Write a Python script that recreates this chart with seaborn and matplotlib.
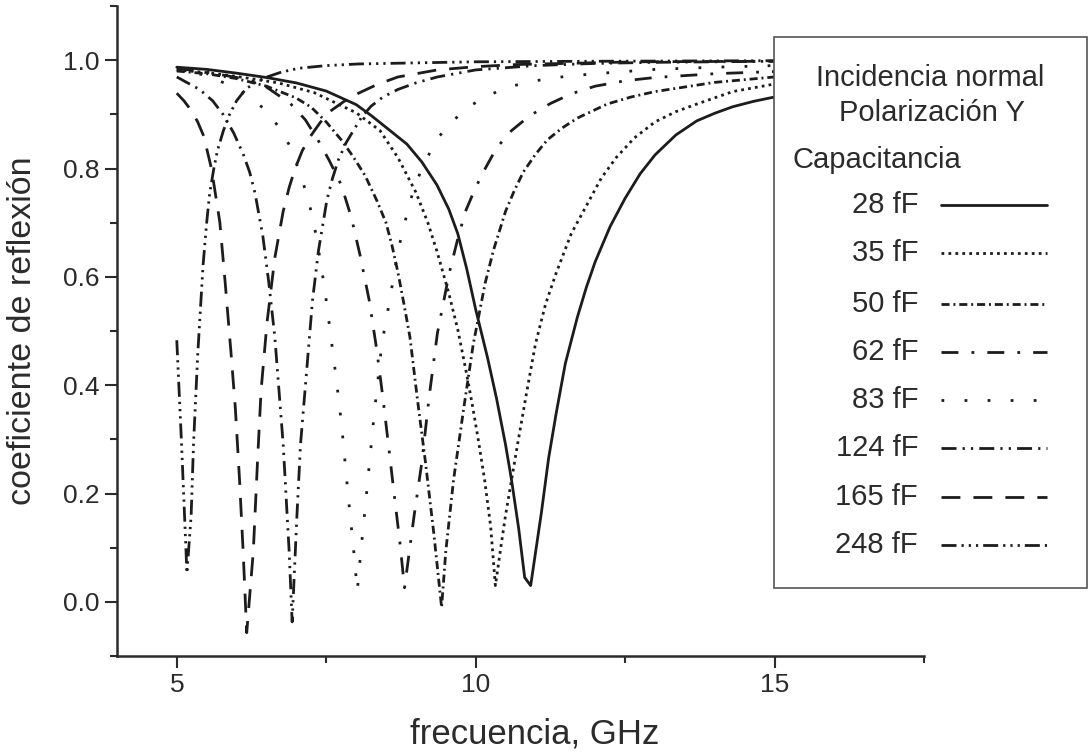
import numpy as np
import pandas as pd
import matplotlib
matplotlib.use("Agg")
import matplotlib.pyplot as plt
from matplotlib.lines import Line2D
from matplotlib.patches import Rectangle
import seaborn as sns

# datos (frecuencia en GHz, coeficiente de reflexion)
f_28 = [5.0, 5.5, 6.0, 6.5, 7.0, 7.5, 8.0, 8.25, 8.5, 8.85, 9.1, 9.35, 9.55, 9.7, 9.85, 10.0, 10.2, 10.35,
        10.5, 10.6, 10.72, 10.82, 10.92, 11.0, 11.1, 11.22, 11.35, 11.5, 11.7, 11.85, 12.0, 12.25, 12.5,
        12.75, 13.0, 13.35, 13.7, 14.0, 14.3, 14.65, 15.0, 15.5, 16.0]
r_28 = [0.987, 0.983, 0.976, 0.968, 0.958, 0.943, 0.918, 0.898, 0.876, 0.845, 0.812, 0.77, 0.725, 0.68,
        0.615, 0.54, 0.45, 0.375, 0.29, 0.225, 0.135, 0.045, 0.03, 0.09, 0.165, 0.265, 0.35, 0.44, 0.525,
        0.58, 0.628, 0.693, 0.745, 0.79, 0.825, 0.862, 0.888, 0.902, 0.914, 0.924, 0.932, 0.94, 0.948]

f_35 = [5.0, 5.5, 6.0, 6.7, 7.3, 8.0, 8.4, 8.7, 9.0, 9.2, 9.35, 9.55, 9.7, 9.85, 9.95, 10.05, 10.15, 10.25,
        10.33, 10.42, 10.5, 10.6, 10.7, 10.85, 11.0, 11.17, 11.35, 11.6, 11.9, 12.1, 12.35, 12.65, 13.0,
        13.35, 13.7, 14.3, 15.0, 15.5, 16.0]
r_35 = [0.982, 0.977, 0.97, 0.958, 0.94, 0.903, 0.87, 0.82, 0.756, 0.7, 0.648, 0.57, 0.503, 0.42, 0.36,
        0.295, 0.225, 0.14, 0.03, 0.1, 0.16, 0.225, 0.29, 0.385, 0.476, 0.55, 0.608, 0.68, 0.741, 0.782,
        0.82, 0.856, 0.886, 0.905, 0.919, 0.942, 0.956, 0.963, 0.968]

f_50 = [5.0, 5.5, 6.0, 6.5, 7.0, 7.25, 7.5, 7.75, 7.95, 8.15, 8.35, 8.5, 8.6, 8.7, 8.8, 8.9, 9.03, 9.16,
        9.3, 9.43, 9.5, 9.63, 9.8, 9.96, 10.16, 10.3, 10.5, 10.65, 10.8, 11.0, 11.2, 11.45, 11.7, 12.2,
        12.6, 13.0, 14.0, 15.0, 16.0]
r_50 = [0.98, 0.975, 0.966, 0.952, 0.93, 0.913, 0.886, 0.853, 0.822, 0.787, 0.74, 0.70, 0.658, 0.608,
        0.55, 0.489, 0.37, 0.258, 0.126, -0.01, 0.093, 0.225, 0.357, 0.476, 0.589, 0.65, 0.721, 0.76,
        0.794, 0.826, 0.853, 0.875, 0.893, 0.919, 0.932, 0.942, 0.959, 0.969, 0.976]

f_62 = [5.0, 5.5, 6.0, 6.4, 6.9, 7.15, 7.35, 7.55, 7.75, 7.92, 8.07, 8.22, 8.34, 8.44, 8.54, 8.63, 8.73,
        8.81, 8.97, 9.1, 9.22, 9.36, 9.56, 9.7, 9.83, 10.0, 10.16, 10.35, 10.6, 10.9, 11.25, 11.6, 12.0,
        12.5, 13.0, 14.0, 15.0, 16.0]
r_62 = [0.985, 0.978, 0.968, 0.958, 0.92, 0.89, 0.855, 0.815, 0.77, 0.71, 0.638, 0.556, 0.469, 0.384,
        0.291, 0.205, 0.112, 0.026, 0.159, 0.258, 0.377, 0.496, 0.608, 0.67, 0.721, 0.765, 0.80, 0.838,
        0.87, 0.897, 0.92, 0.938, 0.952, 0.962, 0.968, 0.975, 0.979, 0.983]

f_83 = [5.0, 5.5, 6.0, 6.48, 6.71, 6.9, 7.04, 7.17, 7.27, 7.34, 7.47, 7.57, 7.67, 7.76, 7.87, 7.95, 8.02,
        8.07, 8.15, 8.3, 8.43, 8.57, 8.7, 8.89, 9.0, 9.16, 9.34, 9.6, 9.88, 10.23, 10.6, 11.0,
        11.5, 12.0, 13.0, 14.0, 15.0, 16.0]
r_83 = [0.982, 0.972, 0.948, 0.909, 0.876, 0.84, 0.797, 0.754, 0.711, 0.671, 0.582, 0.496, 0.41, 0.324,
        0.192, 0.106, 0.02, 0.083, 0.172, 0.344, 0.476, 0.562, 0.648, 0.734, 0.774, 0.813, 0.853, 0.886,
        0.914, 0.936, 0.952, 0.962, 0.97, 0.975, 0.983, 0.987, 0.99, 0.992]

f_124 = [5.0, 5.38, 5.6, 5.78, 5.95, 6.11, 6.22, 6.31, 6.44, 6.54, 6.64, 6.71, 6.78, 6.83, 6.88, 6.93,
         7.01, 7.07, 7.17, 7.27, 7.37, 7.51, 7.6, 7.7, 7.83, 7.97, 8.1, 8.25, 8.45, 8.7, 9.0, 9.36, 10.0,
         11.0, 12.0, 13.0, 15.0, 16.0]
r_124 = [0.969, 0.946, 0.925, 0.899, 0.866, 0.827, 0.793, 0.754, 0.675, 0.589, 0.489, 0.39, 0.291, 0.192,
         0.093, -0.037, 0.159, 0.291, 0.423, 0.556, 0.648, 0.741, 0.78, 0.815, 0.847, 0.873, 0.896, 0.915,
         0.932, 0.946, 0.958, 0.969, 0.982, 0.99, 0.994, 0.996, 0.998, 0.998]

f_165 = [5.0, 5.12, 5.25, 5.35, 5.45, 5.58, 5.72, 5.81, 5.91, 5.98, 6.05, 6.11, 6.17, 6.28, 6.35, 6.41,
         6.51, 6.64, 6.78, 6.88, 6.98, 7.1, 7.24, 7.4, 7.57, 7.8, 8.04, 8.35, 8.7, 9.36, 10.0, 10.7, 12.7,
         15.0, 16.0]
r_165 = [0.939, 0.925, 0.906, 0.886, 0.86, 0.80, 0.701, 0.589, 0.456, 0.357, 0.225, 0.093, -0.057, 0.093,
         0.258, 0.39, 0.516, 0.635, 0.721, 0.765, 0.80, 0.833, 0.86, 0.885, 0.906, 0.924, 0.939, 0.955,
         0.969, 0.982, 0.988, 0.992, 0.997, 0.998, 0.998]

f_248 = [5.0, 5.08, 5.13, 5.17, 5.24, 5.28, 5.35, 5.44, 5.5, 5.55, 5.62, 5.68, 5.78, 5.88, 6.0, 6.15,
         6.3, 6.51, 6.75, 7.04, 7.5, 8.04, 9.0, 10.0, 12.0, 15.0, 16.0]
r_248 = [0.483, 0.291, 0.159, 0.053, 0.159, 0.291, 0.456, 0.622, 0.70, 0.754, 0.8, 0.833, 0.87, 0.899,
         0.925, 0.946, 0.958, 0.969, 0.978, 0.985, 0.99, 0.993, 0.995, 0.997, 0.998, 0.999, 0.999]

capacitancias = ["28 fF", "35 fF", "50 fF", "62 fF", "83 fF", "124 fF", "165 fF", "248 fF"]
frecuencias = [f_28, f_35, f_50, f_62, f_83, f_124, f_165, f_248]
reflexiones = [r_28, r_35, r_50, r_62, r_83, r_124, r_165, r_248]

# tipos de linea (en unidades del grosor)
guiones = {
    "28 fF": "",
    "35 fF": (1, 1.5),
    "50 fF": (2.9, 1.4, 0.7, 1.4),
    "62 fF": (6.1, 4.7, 1, 4.7),
    "83 fF": (1, 7.3),
    "124 fF": (5.4, 2.2, 0.8, 2.2, 0.8, 2.2),
    "165 fF": (6.8, 4.7),
    "248 fF": (5.4, 1.8, 0.8, 1.8, 0.8, 1.8, 0.8, 1.8),
}

filas = []
for cap, fs, rs in zip(capacitancias, frecuencias, reflexiones):
    for f, r in zip(fs, rs):
        filas.append({"frecuencia": f, "reflexion": r, "cap": cap})
df = pd.DataFrame(filas)

sns.set_theme(style="ticks")
plt.rcParams["font.family"] = ["Liberation Sans", "DejaVu Sans"]

fig = plt.figure(figsize=(10.89, 7.55), dpi=100)
ax = fig.add_axes([117 / 1089, 1 - 656 / 755, (924 - 117) / 1089, (656 - 6) / 755])

tinta = "#1c1c1c"
sns.lineplot(data=df, x="frecuencia", y="reflexion", style="cap", style_order=capacitancias,
             dashes=guiones, color=tinta, linewidth=2.0, estimator=None, sort=False,
             legend=False, ax=ax)

ax.set_xlim(4, 17.5)
ax.set_ylim(-0.1, 1.1)
ax.set_xticks([5, 10, 15])
ax.set_xticks([7.5, 12.5, 17.5], minor=True)
ax.set_yticks([0.0, 0.2, 0.4, 0.6, 0.8, 1.0])
ax.set_yticks([-0.1, 0.1, 0.3, 0.5, 0.7, 0.9, 1.1], minor=True)
ax.set_yticklabels(["0.0", "0.2", "0.4", "0.6", "0.8", "1.0"])

sns.despine(ax=ax)
for s in ["left", "bottom"]:
    ax.spines[s].set_linewidth(1.8)
    ax.spines[s].set_color("#2b2b2b")
ax.tick_params(which="major", length=8.5, width=1.5, color="#2b2b2b", labelsize=19,
               labelcolor="#2b2b2b", direction="out", pad=4)
ax.tick_params(which="minor", length=5, width=1.5, color="#2b2b2b", direction="out")

ax.set_xlabel("frecuencia, GHz", fontsize=25, color="#2b2b2b")
ax.set_ylabel("coeficiente de reflexión", fontsize=24.5, color="#2b2b2b")
ax.xaxis.set_label_coords(0.518, -0.095)
ax.yaxis.set_label_coords(-0.098, 0.5)

# recuadro de la leyenda
W, H = 1089.0, 755.0
caja = Rectangle((774 / W, 1 - 588 / H), (1087 - 774) / W, (588 - 37) / H,
                 transform=fig.transFigure, facecolor="white", edgecolor="#555555", linewidth=1.2)
fig.add_artist(caja)

fig.text(930 / W, 1 - 78 / H, "Incidencia normal", ha="center", va="center", fontsize=21, color="#2b2b2b")
fig.text(932 / W, 1 - 113 / H, "Polarización Y", ha="center", va="center", fontsize=21, color="#2b2b2b")
fig.text(793 / W, 1 - 160 / H, "Capacitancia", ha="left", va="center", fontsize=21, color="#2b2b2b")

ys = [205, 253, 304, 352, 400, 448, 497, 545]
for cap, yp in zip(capacitancias, ys):
    fig.text(918 / W, 1 - yp / H, cap, ha="right", va="center", fontsize=21, color="#2b2b2b")
    d = guiones[cap]
    ls = "-" if d == "" else (0, d)
    fig.add_artist(Line2D([941 / W, 1047 / W], [1 - yp / H, 1 - yp / H], transform=fig.transFigure,
                          color=tinta, linewidth=2.0, linestyle=ls))

fig.savefig("out.png", dpi=100)
